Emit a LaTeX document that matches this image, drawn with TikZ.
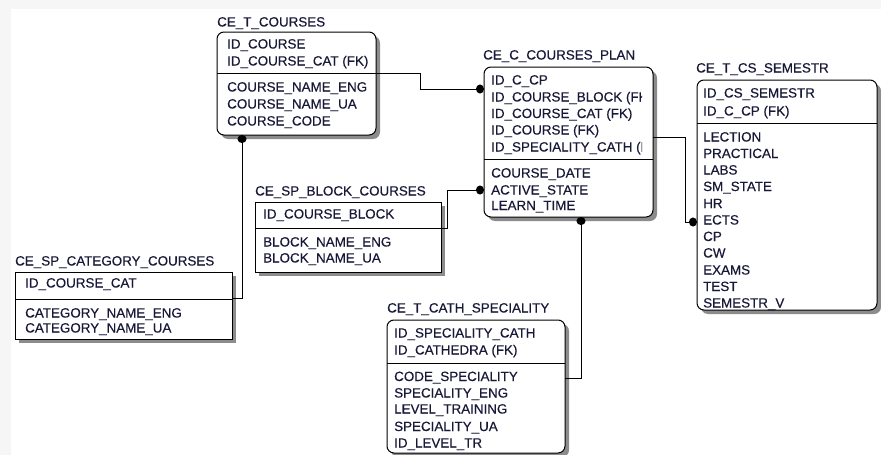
\documentclass[tikz,border=0pt]{standalone}
\usepackage{fontspec}
\setmainfont{Liberation Sans}
\newfontfamily\erfont[FakeBold=0.35]{Liberation Sans}
\usetikzlibrary{arrows.meta,shadows}
\definecolor{ink}{RGB}{24,24,56}
\definecolor{shade}{RGB}{140,140,140}
\definecolor{rim}{RGB}{246,246,246}

\begin{document}
\begin{tikzpicture}[x=1pt,y=-1pt,
  tbl/.style={draw=black, line width=1pt, fill=white, inner sep=0pt, outer sep=0pt,
    anchor=north west,
    drop shadow={shadow xshift=4pt, shadow yshift=-4pt, fill=shade, opacity=1}},
  rtbl/.style={tbl, rounded corners=7pt},
  fld/.style={anchor=base west, inner sep=0pt, text=ink, font=\erfont\fontsize{13.4}{16}\selectfont},
  sep/.style={line width=1pt},
  rel/.style={line width=1pt, draw=black},
  dotend/.style={-{Circle[length=8pt,width=9pt]}},
  dotstart/.style={{Circle[length=8pt,width=9pt]}-}
]
% canvas
\fill[white] (0,0) rectangle (881,455);
\fill[rim] (0,0) rectangle (881,9);
\fill[rim] (0,0) rectangle (11,455);
\useasboundingbox (0,0) rectangle (881,455);

% ---------- tables ----------
\node[rtbl, minimum width=159pt, minimum height=103pt] (tc)   at (217,32)  {};
\node[rtbl, minimum width=169pt, minimum height=150pt] (plan) at (484,67)  {};
\node[rtbl, minimum width=180pt, minimum height=230pt] (sem)  at (697,80)  {};
\node[tbl,  minimum width=186pt, minimum height=70pt]  (blk)  at (255,202) {};
\node[tbl,  minimum width=217pt, minimum height=67pt]  (cat)  at (15,272)  {};
\node[rtbl, minimum width=178pt, minimum height=133pt] (cath) at (387,320) {};

% key / attribute separators
\draw[sep] (tc.west |- 0,73)    -- (tc.east |- 0,73);
\draw[sep] (plan.west |- 0,159) -- (plan.east |- 0,159);
\draw[sep] (sem.west |- 0,123)  -- (sem.east |- 0,123);
\draw[sep] (blk.west |- 0,228)  -- (blk.east |- 0,228);
\draw[sep] (cat.west |- 0,299)  -- (cat.east |- 0,299);
\draw[sep] (cath.west |- 0,363) -- (cath.east |- 0,363);

% ---------- table names ----------
\node[fld] (t1) at (217,26.5)  {CE\_T\_COURSES};
\node[fld] (t2) at (483,59.5)  {CE\_C\_COURSES\_PLAN};
\node[fld] (t3) at (696,72.5)  {CE\_T\_CS\_SEMESTR};
\node[fld] (t4) at (255,195.5) {CE\_SP\_BLOCK\_COURSES};
\node[fld] (t5) at (15,265.5)  {CE\_SP\_CATEGORY\_COURSES};
\node[fld] (t6) at (387,312.5) {CE\_T\_CATH\_SPECIALITY};

% ---------- CE_T_COURSES ----------
\node[fld] (a1) at (227,48.5)  {ID\_COURSE};
\node[fld] (a2) at (227,65.5)  {ID\_COURSE\_CAT (FK)};
\node[fld] (a3) at (227,91.5)  {COURSE\_NAME\_ENG};
\node[fld] (a4) at (227,108.5) {COURSE\_NAME\_UA};
\node[fld] (a5) at (227,125.5) {COURSE\_CODE};

% ---------- CE_C_COURSES_PLAN ----------
\begin{scope}
  \clip (485,68) rectangle (642,216);
  \node[fld] (b1) at (491,84.5)  {ID\_C\_CP};
  \node[fld] (b2) at (491,101.5) {ID\_COURSE\_BLOCK (FK)};
  \node[fld] (b3) at (491,118)   {ID\_COURSE\_CAT (FK)};
  \node[fld] (b4) at (491,134.5) {ID\_COURSE (FK)};
  \node[fld] (b5) at (491,151.5) {ID\_SPECIALITY\_CATH (FK)};
  \node[fld] (b6) at (491,177.5) {COURSE\_DATE};
  \node[fld] (b7) at (491,194.5) {ACTIVE\_STATE};
  \node[fld] (b8) at (491,210)   {LEARN\_TIME};
\end{scope}

% ---------- CE_T_CS_SEMESTR ----------
\node[fld] (c1)  at (703,97.5)  {ID\_CS\_SEMESTR};
\node[fld] (c2)  at (703,115.5) {ID\_C\_CP (FK)};
\node[fld] (c3)  at (703,141.5) {LECTION};
\node[fld] (c4)  at (703,158)   {PRACTICAL};
\node[fld] (c5)  at (703,174.5) {LABS};
\node[fld] (c6)  at (703,191)   {SM\_STATE};
\node[fld] (c7)  at (703,208)   {HR};
\node[fld] (c8)  at (703,224.5) {ECTS};
\node[fld] (c9)  at (703,241)   {CP};
\node[fld] (c10) at (703,257.5) {CW};
\node[fld] (c11) at (703,274.5) {EXAMS};
\node[fld] (c12) at (703,291)   {TEST};
\node[fld] (c13) at (703,307.5) {SEMESTR\_V};

% ---------- CE_SP_BLOCK_COURSES ----------
\node[fld] (d1) at (263,218.5) {ID\_COURSE\_BLOCK};
\node[fld] (d2) at (263,246.5) {BLOCK\_NAME\_ENG};
\node[fld] (d3) at (263,262.5) {BLOCK\_NAME\_UA};

% ---------- CE_SP_CATEGORY_COURSES ----------
\node[fld] (e1) at (25,287.5) {ID\_COURSE\_CAT};
\node[fld] (e2) at (25,317.5) {CATEGORY\_NAME\_ENG};
\node[fld] (e3) at (25,332.5) {CATEGORY\_NAME\_UA};

% ---------- CE_T_CATH_SPECIALITY ----------
\node[fld] (f1) at (394,337.5) {ID\_SPECIALITY\_CATH};
\node[fld] (f2) at (394,354.5) {ID\_CATHEDRA (FK)};
\node[fld] (f3) at (394,381)   {CODE\_SPECIALITY};
\node[fld] (f4) at (394,397.5) {SPECIALITY\_ENG};
\node[fld] (f5) at (394,413.5) {LEVEL\_TRAINING};
\node[fld] (f6) at (394,431)   {SPECIALITY\_UA};
\node[fld] (f7) at (394,447.5) {ID\_LEVEL\_TR};

% ---------- references ----------
\draw[rel, dotend]   (tc.east |- 0,73) -- (420,73) -- (420,89) -- (plan.west |- 0,89);
\draw[rel, dotstart] (tc.south -| 242,0) -- (242,298) -- (cat.east |- 0,298);
\draw[rel, dotend]   (blk.east |- 0,228) -- (447,228) -- (447,190) -- (plan.west |- 0,190);
\draw[rel, dotend]   (plan.east |- 0,137) -- (685,137) -- (685,222) -- (sem.west |- 0,222);
\draw[rel, dotend]   (cath.east |- 0,378) -- (581,378) -- (plan.south -| 581,0);
\end{tikzpicture}
\end{document}
